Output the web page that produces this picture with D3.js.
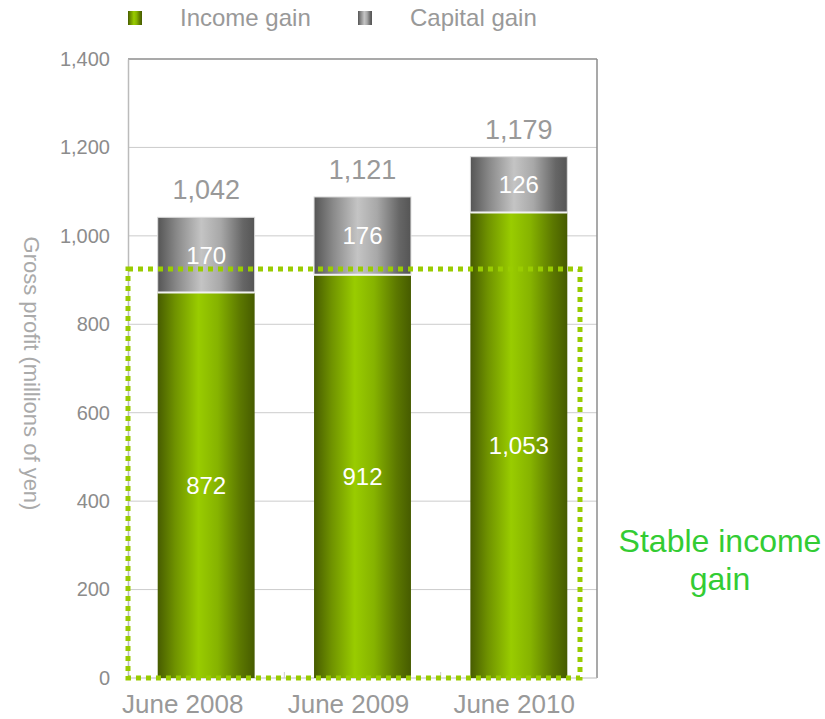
<!DOCTYPE html>
<html>
<head>
<meta charset="utf-8">
<script src="https://cdn.jsdelivr.net/npm/d3@7"></script>
<style>
  html, body { margin: 0; padding: 0; background: #fff; }
  svg { display: block; font-family: "Liberation Sans", Arial, sans-serif; }
</style>
</head>
<body>
<svg id="chart" width="825" height="719"></svg>
<script>
// Gross profit by fiscal period (millions of yen)
const categories = ["June 2008", "June 2009", "June 2010"];
const incomeGain = [872, 912, 1053];
const capitalGain = [170, 176, 126];
const totalLabels = ["1,042", "1,121", "1,179"];
const incomeLabels = ["872", "912", "1,053"];
const capitalLabels = ["170", "176", "126"];
const yTicks = [0, 200, 400, 600, 800, 1000, 1200, 1400];
const seriesNames = ["Income gain", "Capital gain"];
const highlightTop = 925; // upper edge of the "stable income" frame

const svg = d3.select("#chart");
const margin = { left: 128, right: 228, top: 59, bottom: 41 };
const W = 825, H = 719;
const plotW = W - margin.left - margin.right;
const plotH = H - margin.top - margin.bottom;

const x = d3.scaleBand().domain(categories).range([0, plotW]).paddingInner(0.38).paddingOuter(0.19);
const y = d3.scaleLinear().domain([0, 1400]).range([plotH, 0]);

// gradients
const defs = svg.append("defs");
const gInc = defs.append("linearGradient").attr("id", "gInc").attr("x1", "0").attr("x2", "1").attr("y1", "0").attr("y2", "0");
[["0%", "#475c00"], ["18%", "#6f9200"], ["42%", "#99cc00"], ["62%", "#86b300"], ["85%", "#5c7800"], ["100%", "#465b00"]]
  .forEach(([o, c]) => gInc.append("stop").attr("offset", o).attr("stop-color", c));
const gCap = defs.append("linearGradient").attr("id", "gCap").attr("x1", "0").attr("x2", "1").attr("y1", "0").attr("y2", "0");
[["0%", "#555555"], ["20%", "#8a8a8a"], ["45%", "#c4c4c4"], ["65%", "#a8a8a8"], ["88%", "#666666"], ["100%", "#555555"]]
  .forEach(([o, c]) => gCap.append("stop").attr("offset", o).attr("stop-color", c));

const g = svg.append("g").attr("transform", `translate(${margin.left},${margin.top})`);

// gridlines
g.append("g").selectAll("line").data(yTicks.filter(t => t > 0 && t < 1400)).join("line")
  .attr("x1", 0).attr("x2", plotW).attr("y1", d => y(d)).attr("y2", d => y(d))
  .attr("stroke", "#cccccc").attr("stroke-width", 1);

// frame: top and right
g.append("line").attr("x1", 0).attr("x2", plotW).attr("y1", y(1400)).attr("y2", y(1400))
  .attr("stroke", "#8c8c8c").attr("stroke-width", 1.5);
g.append("line").attr("x1", plotW).attr("x2", plotW).attr("y1", y(1400)).attr("y2", y(0))
  .attr("stroke", "#8c8c8c").attr("stroke-width", 1.5);

// y axis
const yAxis = d3.axisLeft(y).tickValues(yTicks).tickSize(0).tickPadding(18)
  .tickFormat(d3.format(","));
const ya = g.append("g").call(yAxis);
ya.select(".domain").attr("stroke", "#bbbbbb").attr("stroke-width", 1.5);
ya.selectAll("text").attr("fill", "#8c8c8c").attr("font-size", 20).attr("font-family", "\"Liberation Sans\", Arial, sans-serif");

// bottom axis line with separators between categories
g.append("line").attr("x1", 0).attr("x2", plotW).attr("y1", y(0)).attr("y2", y(0))
  .attr("stroke", "#bbbbbb").attr("stroke-width", 1);
g.append("g").selectAll("line").data(categories.slice(1)).join("line")
  .attr("x1", d => x(d) - x.step() * x.paddingInner() / 2)
  .attr("x2", d => x(d) - x.step() * x.paddingInner() / 2)
  .attr("y1", y(0)).attr("y2", y(0) - 6).attr("stroke", "#cccccc");

// stacked bars
const rows = categories.map((c, i) => ({ c, inc: incomeGain[i], cap: capitalGain[i], i }));
const bars = g.append("g").selectAll("g").data(rows).join("g");
bars.append("rect")
  .attr("x", d => x(d.c)).attr("width", x.bandwidth())
  .attr("y", d => y(d.inc)).attr("height", d => y(0) - y(d.inc))
  .attr("fill", "url(#gInc)");
bars.append("rect")
  .attr("x", d => x(d.c)).attr("width", x.bandwidth())
  .attr("y", d => y(d.inc + d.cap)).attr("height", d => y(d.inc) - y(d.inc + d.cap))
  .attr("fill", "url(#gCap)").attr("stroke", "#dddddd").attr("stroke-width", 1);
bars.append("line")
  .attr("x1", d => x(d.c)).attr("x2", d => x(d.c) + x.bandwidth())
  .attr("y1", d => y(d.inc)).attr("y2", d => y(d.inc))
  .attr("stroke", "#f2f2f2").attr("stroke-width", 2);

// value labels
bars.append("text")
  .attr("x", d => x(d.c) + x.bandwidth() / 2)
  .attr("y", d => (y(0) + y(d.inc)) / 2)
  .attr("dy", "0.36em").attr("text-anchor", "middle")
  .attr("fill", "#ffffff").attr("font-size", 24)
  .text(d => incomeLabels[d.i]);
bars.append("text")
  .attr("x", d => x(d.c) + x.bandwidth() / 2)
  .attr("y", d => (y(d.inc) + y(d.inc + d.cap)) / 2)
  .attr("dy", "0.36em").attr("text-anchor", "middle")
  .attr("fill", "#ffffff").attr("font-size", 24)
  .text(d => capitalLabels[d.i]);
bars.append("text")
  .attr("x", d => x(d.c) + x.bandwidth() / 2)
  .attr("y", d => y(d.inc + d.cap) - 18)
  .attr("text-anchor", "middle")
  .attr("fill", "#999999").attr("font-size", 27)
  .text(d => totalLabels[d.i]);

// x labels
const xl = d3.scalePoint().domain(categories).range([x.step() * 0.35, plotW - x.step() * 0.53]);
g.append("g").selectAll("text").data(categories).join("text")
  .attr("x", d => xl(d)).attr("y", plotH + 35)
  .attr("text-anchor", "middle").attr("fill", "#999999").attr("font-size", 26)
  .text(d => d);

// highlight frame around income gain
g.append("rect")
  .attr("x", 0).attr("y", y(highlightTop))
  .attr("width", plotW - 17).attr("height", y(0) - y(highlightTop))
  .attr("fill", "none").attr("stroke", "#99cc00").attr("stroke-width", 5)
  .attr("stroke-dasharray", "5,5");

// y axis title
svg.append("text")
  .attr("transform", `translate(30,${margin.top + plotH / 2 + 5}) rotate(90)`)
  .attr("text-anchor", "middle").attr("dominant-baseline", "middle")
  .attr("fill", "#aaaaaa").attr("font-size", 22)
  .text("Gross profit (millions of yen)");

// legend
const legend = svg.append("g");
const legendX = [128, 358];
seriesNames.forEach((name, i) => {
  legend.append("rect").attr("x", legendX[i]).attr("y", 11).attr("width", 14).attr("height", 14)
    .attr("fill", i === 0 ? "url(#gInc)" : "url(#gCap)");
  legend.append("text").attr("x", legendX[i] + 52).attr("y", 26)
    .attr("fill", "#999999").attr("font-size", 24).text(name);
});

// annotation
const note = svg.append("text").attr("text-anchor", "middle").attr("fill", "#33cc33").attr("font-size", 32);
note.append("tspan").attr("x", 720).attr("y", 552).text("Stable income");
note.append("tspan").attr("x", 720).attr("y", 590).text("gain");
</script>
</body>
</html>
